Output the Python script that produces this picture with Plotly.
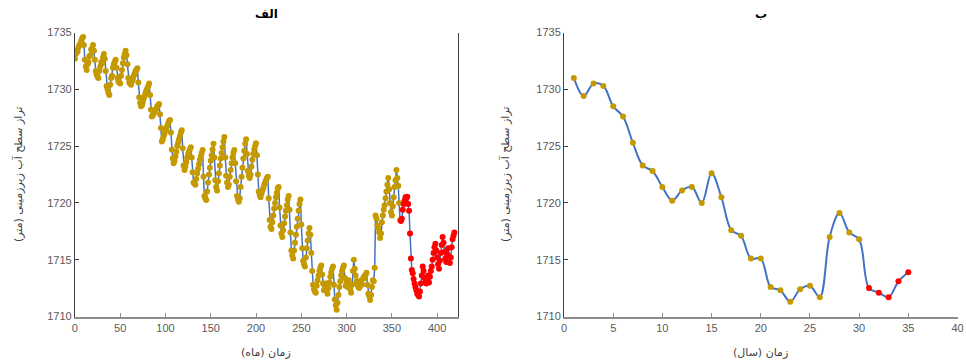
import plotly.graph_objects as go

# ---------------- data: panel الف (monthly groundwater level) ----------------
months = list(range(0, 420))
level_monthly = [
    1732.7, 1733.1, 1733.4, 1733.3, 1733.7, 1733.9, 1734.0, 1734.3, 1734.5, 1734.6, 1733.9, 1732.6,
    1732.0, 1731.7, 1732.2, 1732.4, 1732.9, 1733.0, 1733.5, 1733.6, 1733.9, 1733.4, 1732.6, 1731.6,
    1731.3, 1731.1, 1731.0, 1731.6, 1732.0, 1732.4, 1732.3, 1732.8, 1733.1, 1732.7, 1731.6, 1730.3,
    1730.0, 1729.7, 1729.5, 1730.4, 1731.0, 1731.2, 1731.9, 1732.2, 1732.4, 1732.6, 1731.9, 1731.0,
    1730.7, 1730.6, 1730.5, 1731.2, 1731.7, 1732.3, 1732.8, 1733.1, 1733.4, 1733.0, 1732.2, 1731.0,
    1730.6, 1730.5, 1730.4, 1730.7, 1730.9, 1731.2, 1731.4, 1731.6, 1731.7, 1731.85, 1730.6, 1729.3,
    1728.8, 1728.5, 1728.6, 1728.9, 1729.2, 1729.4, 1729.7, 1729.9, 1730.1, 1730.3, 1730.5, 1729.5,
    1728.2, 1727.6, 1727.7, 1727.9, 1728.0, 1728.2, 1728.3, 1728.5, 1728.6, 1728.7, 1727.8, 1726.6,
    1725.4, 1725.6, 1725.9, 1726.1, 1726.4, 1726.6, 1726.8, 1727.0, 1727.2, 1727.3, 1726.2, 1724.7,
    1723.9, 1723.5, 1723.7, 1724.1, 1724.5, 1725.0, 1725.3, 1725.6, 1725.9, 1726.2, 1726.4, 1724.8,
    1723.3, 1722.9, 1723.2, 1723.6, 1724.0, 1724.3, 1724.5, 1724.7, 1724.9, 1724.0, 1722.7, 1721.8,
    1721.7, 1721.6, 1722.1, 1722.6, 1723.0, 1723.4, 1723.8, 1724.1, 1724.4, 1724.65, 1722.3, 1720.6,
    1720.4, 1720.25, 1721.0, 1721.8, 1722.5, 1723.1, 1723.7, 1724.2, 1724.7, 1725.2, 1724.0, 1722.0,
    1721.4, 1721.1, 1721.9, 1722.6, 1723.3, 1723.9, 1724.4, 1724.9, 1725.4, 1725.8, 1724.0, 1722.4,
    1721.8, 1721.4, 1721.6, 1722.3, 1722.9, 1723.5, 1724.0, 1724.4, 1724.65, 1723.5, 1721.9, 1720.6,
    1720.3, 1720.1, 1720.4, 1721.4, 1722.3, 1723.1, 1723.9, 1724.6, 1725.2, 1725.6, 1724.3, 1722.8,
    1722.4, 1722.2, 1722.5, 1723.2, 1723.8, 1724.3, 1724.7, 1725.0, 1725.25, 1724.2, 1722.5, 1721.0,
    1720.7, 1720.5, 1720.8, 1721.1, 1721.3, 1721.6, 1721.8, 1722.0, 1722.2, 1722.3, 1720.4, 1718.5,
    1717.9, 1717.7, 1718.3, 1718.9, 1719.5, 1720.0, 1720.5, 1720.9, 1721.3, 1721.4, 1719.6, 1718.0,
    1717.3, 1717.0, 1717.6, 1718.2, 1718.8, 1719.3, 1719.8, 1720.3, 1720.6, 1719.4, 1717.4, 1715.8,
    1715.4, 1715.1, 1715.8, 1716.5, 1717.2, 1717.9, 1718.6, 1719.3, 1719.9, 1720.3, 1718.1, 1716.0,
    1714.9, 1714.6, 1714.4, 1715.2, 1716.0, 1716.7, 1717.3, 1717.8, 1717.2, 1715.6, 1714.0, 1712.8,
    1712.4, 1712.2, 1712.1, 1712.7, 1713.2, 1713.6, 1714.0, 1714.3, 1714.5, 1713.7, 1712.9, 1712.3,
    1712.6, 1712.9, 1712.3, 1712.0, 1712.5, 1713.0, 1713.5, 1713.9, 1714.2, 1714.4, 1712.8, 1711.5,
    1711.0, 1710.6, 1711.2, 1711.9, 1712.6, 1713.1, 1713.6, 1714.0, 1714.3, 1714.5, 1713.4, 1712.7,
    1713.0, 1712.6, 1713.2, 1712.9, 1712.4, 1712.1, 1712.8, 1714.0, 1715.0, 1714.2, 1713.6, 1713.1,
    1712.8, 1712.6, 1712.5, 1712.9, 1713.2, 1712.8, 1713.3, 1713.5, 1713.4, 1713.7, 1713.85, 1712.8,
    1712.0, 1711.8, 1711.45, 1711.9, 1712.6, 1713.2, 1713.1, 1714.3, 1718.9, 1718.6, 1718.0, 1717.8,
    1717.4, 1716.9, 1717.3, 1718.3, 1718.9, 1719.4, 1719.8, 1720.4, 1721.0, 1721.6, 1722.2, 1721.2,
    1720.0, 1719.2, 1718.9, 1719.7, 1720.5, 1721.4, 1722.0, 1722.9, 1722.2, 1721.5, 1720.0, 1718.5,
    1718.4, 1718.6, 1719.4, 1719.9, 1720.2, 1720.5, 1720.4, 1720.55, 1719.9, 1719.3, 1717.3, 1715.1,
    1714.1, 1713.8, 1713.3, 1712.9, 1712.6, 1712.3, 1712.0, 1711.9, 1711.75, 1712.2, 1712.9, 1713.6,
    1714.4, 1714.0, 1713.4, 1713.0, 1712.9, 1713.3, 1713.6, 1713.0, 1713.5, 1714.0, 1714.4, 1715.0,
    1715.6, 1716.1, 1716.4, 1715.8, 1715.2, 1714.6, 1714.2, 1714.9, 1715.6, 1716.3, 1717.0, 1716.5,
    1715.7, 1715.1, 1714.8, 1715.5, 1716.0, 1715.3, 1714.7, 1715.2, 1716.1, 1716.8, 1717.1, 1717.4,
]
split_month_index = 360  # observed (gold) before, highlighted (red) after

# ---------------- data: panel ب (annual groundwater level) ----------------
years = list(range(1, 36))
level_annual = [
    1731.0, 1729.4, 1730.5, 1730.3, 1728.5, 1727.6, 1725.3, 1723.3, 1722.8, 1721.4,
    1720.2, 1721.1, 1721.4, 1720.0, 1722.6, 1720.5, 1717.6, 1717.1, 1715.1, 1715.1,
    1712.6, 1712.3, 1711.3, 1712.4, 1712.7, 1711.7, 1717.0, 1719.1, 1717.4, 1716.8,
    1712.5, 1712.1, 1711.7, 1713.1, 1713.9,
]
split_year_index = 30

# ---------------- text ----------------
title_left = "الف"
title_right = "ب"
xtitle_left = "زمان (ماه)"
xtitle_right = "زمان (سال)"
ytitle = "تراز سطح آب زیرزمینی (متر)"

BLUE = "#4472C4"
GOLD = "#C59A00"
RED = "#FF0000"
TICKFONT = dict(family="Liberation Sans, Arial", size=11, color="#595959")
ARFONT = "DejaVu Sans"

fig = go.Figure()

# left panel
fig.add_trace(go.Scatter(x=months, y=level_monthly, mode="lines",
                         line=dict(color=BLUE, width=1.5), xaxis="x", yaxis="y",
                         showlegend=False, hoverinfo="skip"))
fig.add_trace(go.Scatter(x=months[:split_month_index], y=level_monthly[:split_month_index],
                         mode="markers", marker=dict(color=GOLD, size=6),
                         xaxis="x", yaxis="y", showlegend=False))
fig.add_trace(go.Scatter(x=months[split_month_index:], y=level_monthly[split_month_index:],
                         mode="markers", marker=dict(color=RED, size=6),
                         xaxis="x", yaxis="y", showlegend=False))

# right panel
fig.add_trace(go.Scatter(x=years, y=level_annual, mode="lines",
                         line=dict(color=BLUE, width=2, shape="spline", smoothing=1.0),
                         xaxis="x2", yaxis="y2", showlegend=False, hoverinfo="skip"))
fig.add_trace(go.Scatter(x=years[:split_year_index], y=level_annual[:split_year_index],
                         mode="markers", marker=dict(color=GOLD, size=6),
                         xaxis="x2", yaxis="y2", showlegend=False))
fig.add_trace(go.Scatter(x=years[split_year_index:], y=level_annual[split_year_index:],
                         mode="markers", marker=dict(color=RED, size=6),
                         xaxis="x2", yaxis="y2", showlegend=False))

W, H = 966, 364
yd = [1 - 316.5 / H, 1 - 32.5 / H]
common_y = dict(range=[1710, 1735], dtick=5, showgrid=False, zeroline=False,
                showline=True, linecolor="#404040", linewidth=1,
                ticks="inside", ticklen=4, tickcolor="#404040", tickfont=TICKFONT,
                domain=yd, automargin=False)
common_x = dict(showgrid=False, zeroline=False, showline=True, linecolor="#8c8c8c",
                linewidth=2, ticks="inside", ticklen=4, tickcolor="#8c8c8c",
                tickfont=TICKFONT, automargin=False)

fig.update_layout(
    width=W, height=H, margin=dict(l=0, r=0, t=0, b=0, pad=0), autosize=False,
    paper_bgcolor="white", plot_bgcolor="white",
    xaxis=dict(common_x, range=[0, 423], dtick=50, domain=[74.9 / W, 458 / W], anchor="y"),
    yaxis=dict(common_y, anchor="x", mirror=True),
    xaxis2=dict(common_x, range=[0, 40], dtick=5, domain=[564 / W, 957.5 / W], anchor="y2"),
    yaxis2=dict(common_y, anchor="x2"),
)

cx_l = (74.9 + 458) / 2 / W
cx_r = (564 + 957.5) / 2 / W
ann = [
    dict(text="<b>%s</b>" % title_left, x=cx_l, y=1 - 14 / H,
         font=dict(family=ARFONT, size=12, color="#000")),
    dict(text="<b>%s</b>" % title_right, x=cx_r, y=1 - 14 / H,
         font=dict(family=ARFONT, size=12, color="#000")),
    dict(text=xtitle_left, x=cx_l, y=1 - 352 / H,
         font=dict(family=ARFONT, size=11, color="#404040")),
    dict(text=xtitle_right, x=cx_r, y=1 - 352 / H,
         font=dict(family=ARFONT, size=11, color="#404040")),
    dict(text=ytitle, x=18 / W, y=1 - 174 / H, textangle=-90,
         font=dict(family=ARFONT, size=11, color="#404040")),
    dict(text=ytitle, x=505 / W, y=1 - 174 / H, textangle=-90,
         font=dict(family=ARFONT, size=11, color="#404040")),
]
for a in ann:
    a.update(xref="paper", yref="paper", showarrow=False, xanchor="center", yanchor="middle")
fig.update_layout(annotations=ann)

fig.write_html(
    "out.html", config={"displayModeBar": False},
    post_script="document.body.style.margin='0px';document.body.style.overflow='hidden';")
